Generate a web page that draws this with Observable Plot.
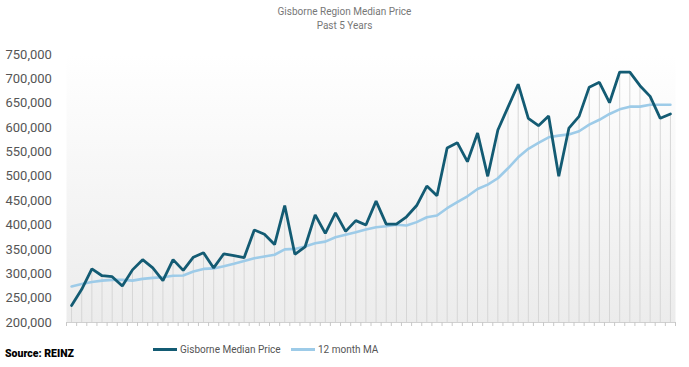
<!DOCTYPE html>
<html>
<head>
<meta charset="utf-8">
<script src="https://cdn.jsdelivr.net/npm/d3@7"></script>
<script src="https://cdn.jsdelivr.net/npm/@observablehq/plot@0.6"></script>
<style>
  body { margin: 0; background: #fff; font-family: Roboto, "Noto Sans", sans-serif; }
  #wrap { position: relative; width: 689px; height: 367px; }
  #title { position: absolute; top: 5px; left: 0; width: 689px; text-align: center; color: #777; font-size: 10px; line-height: 14px; }
  #chart { position: absolute; top: 38px; left: 0; }
  #source { position: absolute; left: 5px; top: 347px; font-weight: 900; font-size: 10.5px; color: #000; }
  .leg { position: absolute; top: 344px; font-size: 10px; color: #555; display: flex; align-items: center; }
  .sw { display: inline-block; width: 24px; height: 3px; margin-right: 3px; }
</style>
</head>
<body>
<div id="wrap">
  <div id="title">Gisborne Region Median Price<br>Past 5 Years</div>
  <div id="chart"></div>
  <div id="source">Source: REINZ</div>
  <div class="leg" style="left:153px"><span class="sw" style="background:#135b73"></span>Gisborne Median Price</div>
  <div class="leg" style="left:291px"><span class="sw" style="background:#9dcbe8"></span>12 month MA</div>
</div>
<script>
const months = d3.range(1, 61);
const medianPrice = [
  235000, 268000, 310000, 296000, 294000, 275000, 308000, 329000, 312000, 286000,
  329000, 307000, 334000, 343000, 312000, 341000, 337000, 333000, 390000, 381000,
  360000, 440000, 340000, 355000, 421000, 383000, 425000, 387000, 409000, 400000,
  449000, 402000, 402000, 417000, 440000, 480000, 460000, 558000, 569000, 530000,
  589000, 500000, 595000, 642000, 689000, 619000, 604000, 624000, 500000, 599000,
  623000, 683000, 693000, 651000, 714000, 714000, 686000, 664000, 619000, 628000
];
const movingAvg = [
  274000, 279000, 283000, 286000, 287500, 287500, 286000, 289500, 291500, 293000,
  296000, 296500, 304500, 310000, 311000, 315500, 320500, 326000, 332000, 335500,
  339000, 350000, 351000, 356000, 362500, 366000, 375000, 380000, 385000, 391000,
  395500, 397500, 400500, 399000, 406000, 416000, 419500, 434500, 447000, 459000,
  474000, 483000, 496000, 516500, 539000, 556500, 568500, 580000, 583500, 586000,
  592500, 606000, 616000, 628000, 637500, 643000, 643000, 647000, 647000, 647000
];
const yTicks = d3.range(200000, 750001, 50000);
const data = months.map((m, i) => ({m, price: medianPrice[i], ma: movingAvg[i]}));
const boundaries = d3.range(0.5, 61, 1);

const plot = Plot.plot({
  width: 689,
  height: 300,
  marginLeft: 66,
  marginRight: 14,
  marginTop: 16,
  marginBottom: 16,
  style: {fontFamily: "Roboto, 'Noto Sans', sans-serif", background: "transparent"},
  x: {domain: [0.5, 60.5], axis: null},
  y: {domain: [200000, 750000]},
  marks: [
    Plot.frame({fill: "url(#bggrad)", stroke: null}),
    Plot.ruleX(data, {x: "m", y1: 200000, y2: "price", stroke: "#d6d6d6", strokeWidth: 1}),
    Plot.ruleY([200000], {stroke: "#d0d0d0"}),
    Plot.axisX(boundaries, {tickSize: 4, tickFormat: () => "", stroke: "#c8c8c8", label: null}),
    Plot.axisY(yTicks, {tickSize: 0, tickPadding: 61, textAnchor: "start", tickFormat: d3.format(","), fontSize: 13, fill: "#555", label: null}),
    Plot.line(data, {x: "m", y: "ma", stroke: "#9dcbe8", strokeWidth: 2.6}),
    Plot.line(data, {x: "m", y: "price", stroke: "#135b73", strokeWidth: 2.8, strokeLinejoin: "miter"})
  ]
});
const svg = d3.select(plot);
const defs = svg.insert("defs", ":first-child");
const g = defs.append("linearGradient").attr("id", "bggrad").attr("x1", 0).attr("y1", 0).attr("x2", 0).attr("y2", 1);
g.append("stop").attr("offset", "0%").attr("stop-color", "#ffffff");
g.append("stop").attr("offset", "100%").attr("stop-color", "#ececec");
document.getElementById("chart").appendChild(plot);
</script>
</body>
</html>
